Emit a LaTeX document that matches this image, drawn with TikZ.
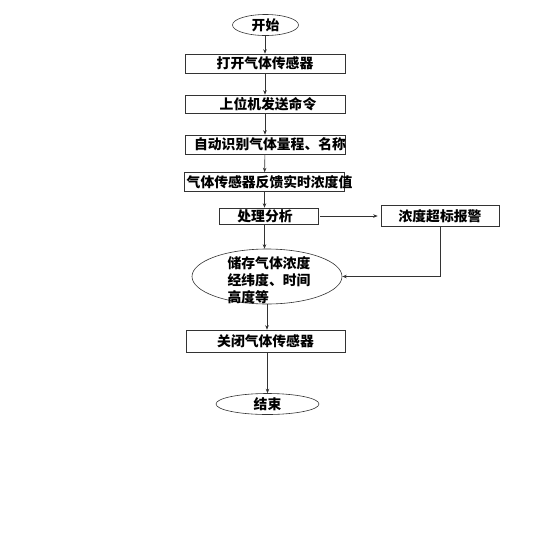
\documentclass[tikz,border=0pt]{standalone}
\usepackage{fontspec}
\setmainfont{Noto Sans CJK SC}
\usetikzlibrary{arrows.meta}
\usetikzlibrary{shapes}

\begin{document}
\begin{tikzpicture}[x=1pt,y=-1pt,
    line width=0.6pt,
    every node/.style={font=\fontsize{13.8}{17}\selectfont\bfseries, inner sep=0pt},
    stepbox/.style={draw=black!80, rectangle, minimum width=160, minimum height=19},
    endpoint/.style={draw=black!80, ellipse},
    arr/.style={draw=black!80, -{Stealth[length=4.5pt,width=3.5pt]}}]
    \useasboundingbox (0,0) rectangle (539,539);

    %nodes
    \node[endpoint, minimum width=66, minimum height=21] (st) at (265.5,25) {开始};
    \node[stepbox] (b1) at (265,63.5) {打开气体传感器};
    \node[stepbox, minimum height=18] (b2) at (265,104) {\makebox[0pt]{\hspace{6pt}上位机发送命令}};
    \node[stepbox] (b3) at (265,144.5) {\makebox[0pt]{\hspace{10pt}自动识别气体量程、名称}};
    \node[stepbox] (b4) at (264.5,182) {\makebox[0pt]{\hspace{10pt}气体传感器反馈实时浓度值}};
    \node[stepbox, minimum width=99, minimum height=16] (b5) at (268.5,216) {\makebox[0pt]{处理分析\hspace{7pt}}};
    \node[stepbox, minimum width=118, minimum height=21] (b6) at (440,216) {浓度超标报警};
    \node[endpoint, minimum width=150, minimum height=55] (ell) at (267,276.5)
        {\smash{\makebox[0pt]{\hspace{4pt}\raisebox{-9pt}{\begin{tabular}{@{}l@{}}储存气体浓度\\经纬度、时间\\高度等\end{tabular}}}}};
    \node[stepbox, minimum width=159, minimum height=22] (b7) at (265.5,341) {关闭气体传感器};
    \node[endpoint, minimum width=103, minimum height=21] (end) at (267.5,404) {结束};

    %arrows
    \draw[arr] (st.south -| b1) -- (b1.north);
    \draw[arr] (b1) -- (b2);
    \draw[arr] (b2) -- (b3);
    \draw[arr] (b3) -- (b4);
    \draw[arr] (b4.south) -- (b4.south |- b5.north);
    \draw[arr] (b4.south |- b5.south) -- (b4.south |- ell.north);
    \draw[arr, shorten <=2pt, shorten >=3pt] (b5) -- (b6);
    \draw[arr] (b6) |- (ell);
    \draw[arr] (ell.south) -- (ell.south |- b7.north);
    \draw[arr] (b7.south -| end) -- (end.north);

\end{tikzpicture}
\end{document}
